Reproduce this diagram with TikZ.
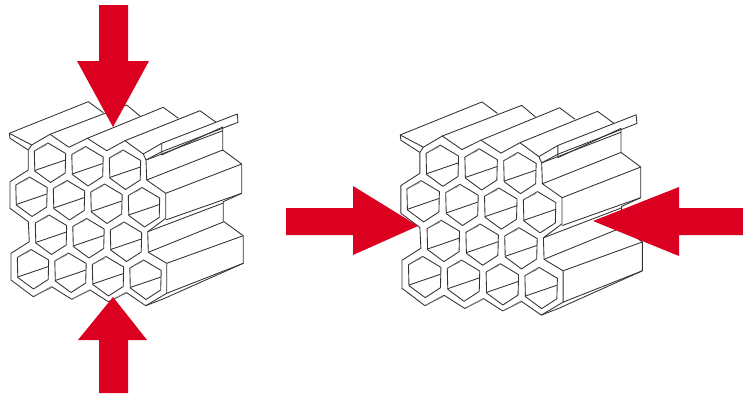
\documentclass[tikz,border=0pt]{standalone}
\usepackage{xcolor}
\usepackage{tikz}
\definecolor{pressred}{HTML}{DB0020}
\newcommand{\honeycomb}{%
    \foreach \cx/\cy in {50/162.5, 87.5/166, 125/169.5,
        31.5/196.5, 69/200, 106.5/203.5, 144/207,
        51/234.5, 88.5/238, 126/241.5,
        33/269, 70.5/272.5, 108/276, 145.5/279.5} {
        \draw[cellline, shift={(\cx,\cy)}] (-2,-19.5) -- (15.7,-9) -- (15.2,10.5) -- (0.5,20) -- (-15.2,8.5) -- (-15.7,-11.5) -- cycle;
        \draw[cellline, shift={(\cx,\cy)}] (-15.4,8) -- (15.5,-2.5);
        \fill[cellwedge, shift={(\cx,\cy)}] (-15.7,-11.5) -- (-2,-19.5) -- (-4,-17) -- cycle;
    }
    \draw[cellline] (9.3,133.3) -- (10,138.3) -- (28.3,150) -- (28.3,170) -- (10,181.7) -- (10,208.3) -- (28.3,221.7) -- (29.3,241.7) -- (11,253.3) -- (11,280) -- (33.3,296.7) -- (51.7,286.7) -- (71.7,299.3) -- (90,290) -- (108.3,301.7) -- (126.7,292.7) -- (145.7,305.7) -- (166.7,293.3) -- (166.7,263.3) -- (148.3,252.3) -- (147.7,231.7) -- (165.7,218.3) -- (165.7,193.3) -- (146.7,180) -- (146,160) -- (161.7,151.7);
    \draw[cellline] (9.3,133.3) -- (31.7,145) -- (50,134.3) -- (69,147.3) -- (87.3,138.3) -- (106.7,150.7) -- (125,140.7) -- (143.3,154) -- (161.7,143.3) -- (161.7,155);
    \draw[cellline] (31.7,145) -- (28.3,150);
    \draw[cellline] (143.3,154) -- (146,160);
    \draw[cellline] (9.3,133.3) -- (88.3,101.7) -- (103.3,112.7);
    \draw[cellline] (50,134.3) -- (126.7,105) -- (140,116);
    \draw[cellline] (87.3,138.3) -- (163.3,107.3) -- (178.3,118.3);
    \draw[cellline] (125,140.7) -- (200,110.7) -- (216,122.3);
    \draw[cellline] (161.7,143.3) -- (237.3,114) -- (238,122.3) -- (161.7,151.7);
    \draw[cellline] (146,160) -- (222.7,130.7) -- (222.7,150);
    \draw[cellline] (161.7,155) -- (222.7,127) -- (222.7,130.7);
    \draw[cellline] (146.7,180) -- (222.7,150) -- (241.7,164) -- (241.7,193.3) -- (165.7,220);
    \draw[cellline] (165.7,193.3) -- (241.7,164);
    \draw[cellline] (241.7,193.3) -- (223.3,201.7) -- (223.3,221.7);
    \draw[cellline] (147.7,231.7) -- (223.3,203);
    \draw[cellline] (148.3,252.3) -- (224,221.7) -- (243.3,235.7) -- (243.3,263.3) -- (166.7,293.3);
    \draw[cellline] (166.7,263.3) -- (243.3,235.7);
    \draw[cellline] (145.7,305.7) -- (163,299) -- (243.3,263.3);
    \foreach \wx/\wy in {33.3/296.7, 71.7/299.3, 108.3/301.7} {
        \fill[cellwedge] (\wx,\wy) -- (\wx+18,\wy-10) -- (\wx+18,\wy-8.5) -- cycle;
    }
}
\begin{document}
\begin{tikzpicture}[x=0.75pt, y=-0.75pt,
    cellline/.style={draw=black!80, line width=0.65pt, line join=round},
    cellwedge/.style={fill=black!50},
    pressarrow/.style={fill=pressred}]

    \useasboundingbox (0,0) rectangle (743,396);

    \honeycomb
    \begin{scope}[shift={(390.55,-4.34)}, xscale=1.035, yscale=1.045]
        \honeycomb
    \end{scope}

    \fill[pressarrow] (99,5) -- (128,5) -- (128,61) -- (149,61) -- (113,127) -- (77,61) -- (99,61) -- cycle;
    \fill[pressarrow] (99,393) -- (128,393) -- (128,340) -- (147,340) -- (113,297) -- (78,340) -- (99,340) -- cycle;
    \fill[pressarrow] (286,208) -- (353,208) -- (353,186) -- (418,226) -- (353,255) -- (353,235) -- (286,235) -- cycle;
    \fill[pressarrow] (743,208) -- (679,208) -- (679,187) -- (593,221) -- (679,256) -- (679,235) -- (743,235) -- cycle;
\end{tikzpicture}
\end{document}
